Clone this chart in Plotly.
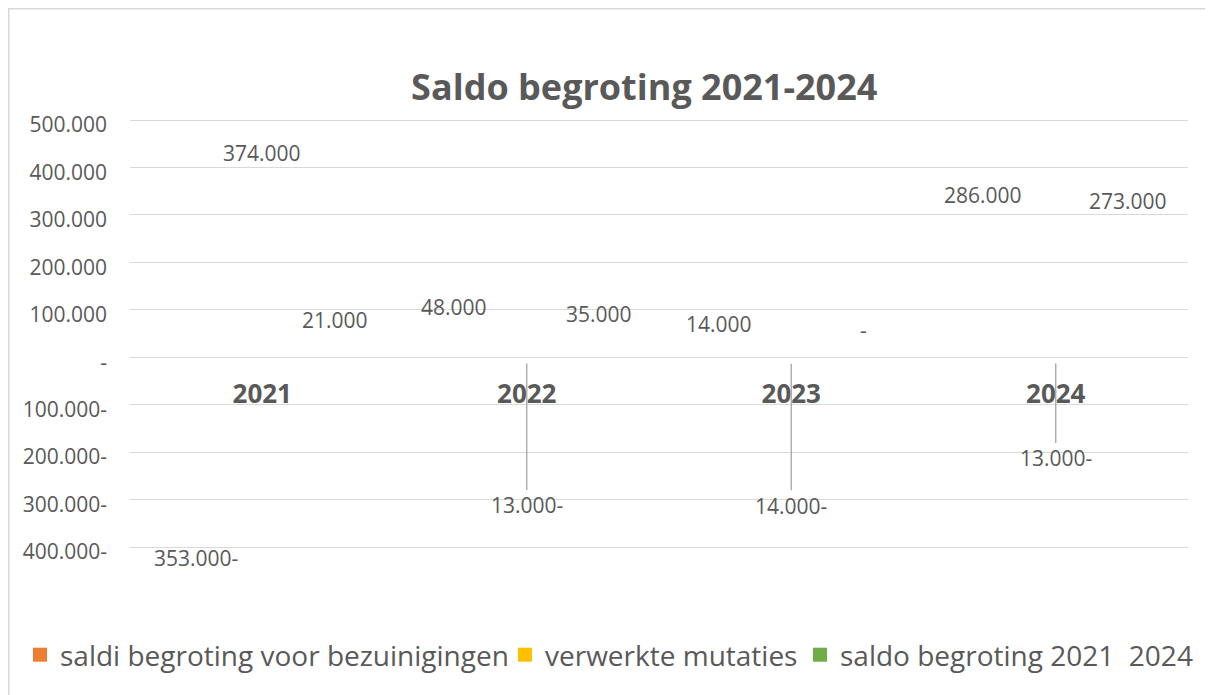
import plotly.graph_objects as go

categories = ["2021", "2022", "2023", "2024"]
series_names = ["saldi begroting voor bezuinigingen", "verwerkte mutaties", "saldo begroting 2021  2024"]
saldi_voor = [-353000, 48000, 14000, 286000]
mutaties = [374000, -13000, -14000, -13000]
saldo = [21000, 35000, 0, 273000]
series_values = [saldi_voor, mutaties, saldo]
series_colors = ["#ED7D31", "#FFC000", "#70AD47"]

ytick_vals = [500000, 400000, 300000, 200000, 100000, 0, -100000, -200000, -300000, -400000]

def fmt(v):
    if v == 0:
        return "-"
    s = f"{abs(v):,.0f}".replace(",", ".")
    return s + ("-" if v < 0 else "")

ytick_text = [fmt(v) for v in ytick_vals]

# style: per-series bar offset within category, moved-label offsets (pixels)
offsets = [-0.275, 0.0, 0.275]
moved = {(1, 1): 142, (1, 2): 142, (1, 3): 95}
legend_left_px = [20, 505, 800]

TXT = "#595959"
FONT = "Open Sans"
W, H = 1205, 687          # page body has an 8px margin
PAD = 2                   # px of padding so the outer gridlines are drawn
L, R, T, B = 122, 25, 112 - PAD, 148 - PAD
PW, PH = W - L - R, H - T - B
UPP = 900000 / 427        # data units per pixel
Y_RANGE = [-400000 - PAD * UPP, 500000 + PAD * UPP]

fig = go.Figure()

annotations = []
legend_ids = ["legend", "legend2", "legend3"]
for si, (name, vals, col) in enumerate(zip(series_names, series_values, series_colors)):
    xs = [i + offsets[si] for i in range(len(categories))]
    fig.add_trace(go.Bar(x=xs, y=vals, width=0.25,
                         marker=dict(color="rgba(0,0,0,0)", line=dict(width=0)),
                         showlegend=False, hoverinfo="skip"))
    fig.add_trace(go.Scatter(x=[None], y=[None], mode="markers", name=name,
                             legend=legend_ids[si],
                             marker=dict(symbol="square", size=14, color=col)))
    for ci, v in enumerate(vals):
        if (si, ci) in moved:
            annotations.append(dict(x=xs[ci], y=v, xref="x", yref="y", text=fmt(v),
                                    showarrow=True, arrowhead=0, arrowwidth=1.3,
                                    arrowcolor="#a6a6a6", ax=0, ay=moved[(si, ci)],
                                    font=dict(family=FONT, size=21, color=TXT)))
        else:
            annotations.append(dict(x=xs[ci], y=v, xref="x", yref="y", text=fmt(v),
                                    showarrow=False, yanchor="middle",
                                    yshift=(27 if v >= 0 else -33),
                                    xshift=(6 if v < 0 else 0),
                                    font=dict(family=FONT, size=21, color=TXT)))

legend_y = -(655 - 8 - (T + PH)) / PH
legends = {}
for lid, lx in zip(legend_ids, legend_left_px):
    legends[lid] = dict(orientation="h", x=(lx - 8 - L) / PW, xanchor="left",
                        y=legend_y, yanchor="middle",
                        font=dict(family=FONT, size=28, color=TXT), itemwidth=30,
                        bgcolor="rgba(0,0,0,0)")

fig.update_layout(
    width=W, height=H,
    margin=dict(l=L, r=R, t=T, b=B, autoexpand=False),
    paper_bgcolor="white", plot_bgcolor="white",
    barmode="overlay",
    title=dict(text="<b>Saldo begroting 2021-2024</b>", x=0.528, xanchor="center",
               y=1 - (87 - 8) / H, yanchor="middle",
               font=dict(family=FONT, size=36, color=TXT)),
    xaxis=dict(range=[-0.5, len(categories) - 0.5], tickvals=list(range(len(categories))),
               ticktext=[f"<b>{c}</b>" for c in categories],
               tickfont=dict(family=FONT, size=26, color=TXT),
               anchor="free", position=(0 - Y_RANGE[0]) / (Y_RANGE[1] - Y_RANGE[0]),
               showline=True, linecolor="#d9d9d9",
               linewidth=1.3, showgrid=False, zeroline=False, ticks="",
               ticklabelstandoff=13),
    yaxis=dict(range=Y_RANGE, tickvals=ytick_vals, ticktext=ytick_text,
               tickfont=dict(family=FONT, size=21, color=TXT),
               showgrid=True, gridcolor="#d9d9d9", gridwidth=1.3, zeroline=False,
               showline=False, ticks="", ticklabelstandoff=22, ticklabelshift=5),
    annotations=annotations,
    shapes=[dict(type="rect", xref="paper", yref="paper",
                 x0=(0.75 - L) / PW, x1=(W + 20 - L) / PW,
                 y0=-(H + 20 - T - PH) / PH, y1=(T + PH - 0.75) / PH,
                 line=dict(color="#d9d9d9", width=1.5), layer="below")],
    **legends,
)

fig.write_html("out.html")
